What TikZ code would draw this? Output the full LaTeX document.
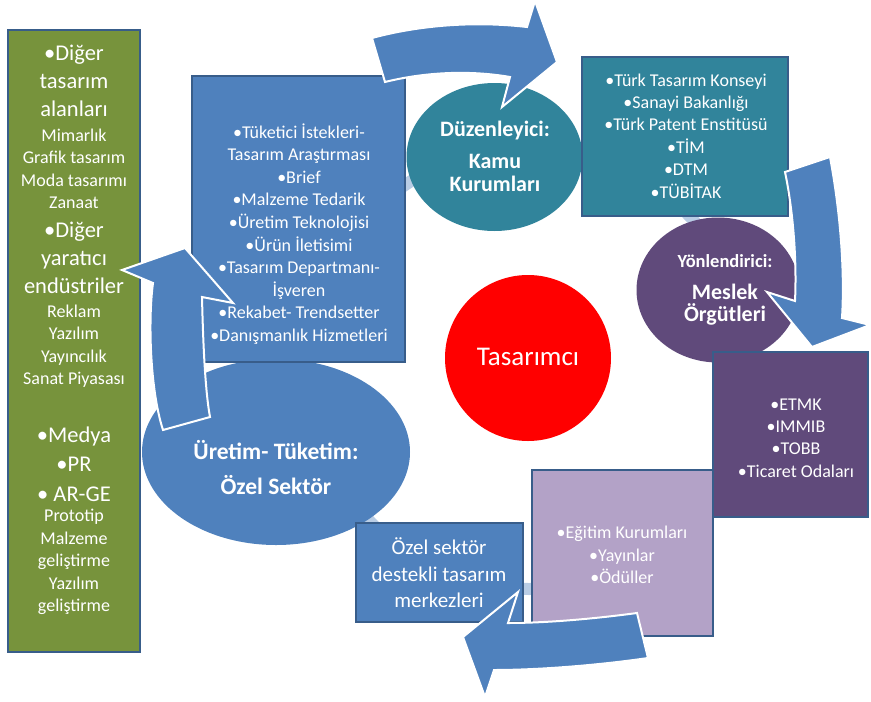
\documentclass[tikz,border=0pt]{standalone}
\usepackage{fontspec}
\setmainfont{Carlito}
\usetikzlibrary{shapes.geometric}
\definecolor{blueA}{HTML}{4F81BD}
\definecolor{bordercol}{HTML}{385D8A}
\definecolor{tealA}{HTML}{31849B}
\definecolor{purpA}{HTML}{604A7B}
\definecolor{lavA}{HTML}{B3A2C7}
\definecolor{greenA}{HTML}{77933C}
\definecolor{paleA}{HTML}{B9CDE5}
\begin{document}
\begin{tikzpicture}[x=1pt,y=-1pt,
  box/.style={draw=bordercol, line width=1.8pt, fill=#1, inner sep=0pt},
  blob/.style={ellipse, fill=#1, inner sep=0pt},
  txt/.style={text=white, align=center, inner sep=0pt, font=\fontsize{18}{22.4}\selectfont},
  bigtxt/.style={text=white, align=center, inner sep=0pt, font=\fontsize{22.5}{28}\selectfont},
  boldtxt/.style={text=white, align=center, inner sep=0pt, font=\bfseries\fontsize{22}{22.5}\selectfont},
  arrowshape/.style={fill=blueA, draw=white, line width=2pt, line join=miter}
]
\useasboundingbox (0,0) rectangle (871,702);

% pale cycle ring behind everything
\draw[paleA, line width=12pt] (529,368) circle[radius=221];

% left green box
\node[box=greenA, minimum width=132pt, minimum height=622pt] (green) at (74,341) {};
\node[bigtxt] (g1) at (74,81) {•Diğer\\tasarım\\alanları};
\node[txt] (g2) at (74,169) {Mimarlık\\Grafik tasarım\\Moda tasarımı\\Zanaat};
\node[bigtxt] (g3) at (74,258) {•Diğer\\yaratıcı\\endüstriler};
\node[txt] (g4) at (74,346) {Reklam\\Yazılım\\Yayıncılık\\Sanat Piyasası};
\node[bigtxt, font=\fontsize{22.5}{29.5}\selectfont] (g5) at (74,464) {•Medya\\•PR\\• AR-GE};
\node[txt] (g6) at (74,562) {Prototip\\Malzeme\\geliştirme\\Yazılım\\geliştirme};

% production ellipse and box
\node[blob=blueA, minimum width=268pt, minimum height=186pt] (ure) at (276,452) {};
\node[boldtxt, font=\bfseries\fontsize{23.5}{28}\selectfont] (uretxt) at (276,468) {Üretim- Tüketim:\\[7pt]Özel Sektör};
\node[box=blueA, minimum width=213pt, minimum height=286pt] (prod) at (298.5,219) {};
\node[txt, font=\fontsize{18}{22.6}\selectfont] (prodtxt) at (299,234) {•Tüketici İstekleri-\\Tasarım Araştırması\\•Brief\\•Malzeme Tedarik\\•Üretim Teknolojisi\\•Ürün İletisimi\\•Tasarım Departmanı-\\İşveren\\•Rekabet- Trendsetter\\•Danışmanlık Hizmetleri};

% public institutions
\node[blob=tealA, minimum width=176pt, minimum height=148pt] (kamu) at (494.5,157) {};
\node[boldtxt] (kamutxt) at (495,156) {Düzenleyici:\\[10pt]Kamu\\Kurumları};
\node[box=tealA, minimum width=206pt, minimum height=159pt] (kamubox) at (685,136.5) {};
\node[txt] (kamuboxtxt) at (686,136) {•Türk Tasarım Konseyi\\•Sanayi Bakanlığı\\•Türk Patent Enstitüsü\\•TİM\\•DTM\\•TÜBİTAK};

% professional organisations
\node[blob=purpA, minimum width=163pt, minimum height=145pt] (meslek) at (718,290) {};
\node[box=purpA, minimum width=155pt, minimum height=165pt] (meslekbox) at (790.5,434.5) {};
\node[boldtxt] (meslektxt) at (725,290) {{\fontsize{18.5}{22}\selectfont Yönlendirici:}\\[9pt]Meslek\\Örgütleri};
\node[txt] (meslekboxtxt) at (796,438) {•ETMK\\•IMMIB\\•TOBB\\•Ticaret Odaları};

% education box and private centres
\node[box=lavA, minimum width=181pt, minimum height=166pt] (egitim) at (622.5,553) {};
\node[txt] (egitimtxt) at (622,555) {•Eğitim Kurumları\\•Yayınlar\\•Ödüller};
\node[box=blueA, minimum width=167pt, minimum height=99pt] (ozel) at (439.5,572.5) {};
\node[txt, font=\fontsize{21}{26.5}\selectfont] (ozeltxt) at (439,573) {Özel sektör\\destekli tasarım\\merkezleri};

% designer
\node[circle, fill=red, minimum size=166pt, inner sep=0pt] (designer) at (528,358) {};
\node[text=white, inner sep=0pt, font=\fontsize{27}{32}\selectfont] (designertxt) at (528,357) {Tasarımcı};

% block arrows
\path[arrowshape] (372,38) .. controls (420,25) and (475,21) .. (527,27) -- (535,1) -- (557,62) -- (502,107) -- (510,77) .. controls (470,70) and (425,72) .. (385,82) -- cycle;
\path[arrowshape] (785,172) -- (830,157) .. controls (840,210) and (845,270) .. (842,318) -- (870,325) -- (812,347) -- (767,292) -- (795,301) .. controls (797,260) and (793,210) .. (785,172) -- cycle;
\path[arrowshape] (637,613) -- (648,658) .. controls (600,665) and (540,670) .. (494,670) -- (485,697) -- (463,637) -- (518,592) -- (508,623) .. controls (550,623) and (600,618) .. (637,613) -- cycle;
\path[arrowshape] (163,430) .. controls (150,390) and (148,320) .. (153,283) -- (122,270) -- (185,248) -- (233,303) -- (202,297) .. controls (203,340) and (205,390) .. (210,417) -- cycle;
\end{tikzpicture}
\end{document}
